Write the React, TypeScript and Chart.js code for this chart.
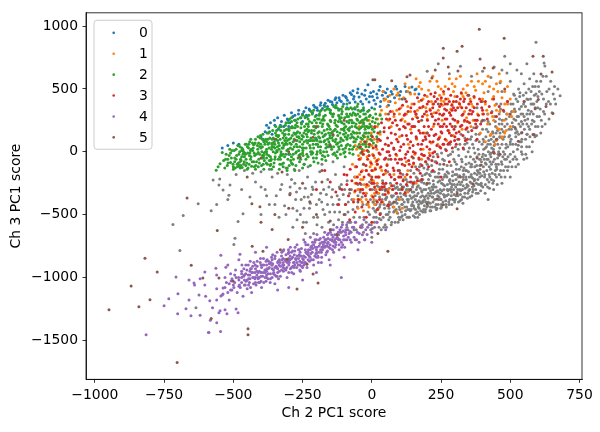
import { useEffect, useRef } from "react"
import { Chart, registerables } from "chart.js"

Chart.register(...registerables)

// axis ticks
const xTicks = [-1000, -750, -500, -250, 0, 250, 500, 750]
const yTicks = [-1500, -1000, -500, 0, 500, 1000]

const seriesLabels = ["0", "1", "2", "3", "4", "5"]
const seriesColors = ["#1f77b4", "#ff7f0e", "#2ca02c", "#d62728", "#9467bd", "#8c564b"]
const backgroundColor = "#7f7f7f"

// points as flat x,y lists (Ch 2 PC1 score, Ch 3 PC1 score)
const grayPoints = [
  -560,-420,-520,-380,-470,-300,-440,-360,-420,-240,-400,-500,-385,-300,-370,-420,-360,-200,-345,-350,-335,-520,-325,-260,-315,-430,-305,-180,-295,-330,-285,-600,-278,-250,-270,-470,-262,-150,-255,-380,-247,-560,-240,-290,-232,-200,-225,-450,-218,-340,-210,-650,-203,-240,-196,-520,-188,-160,-181,-400,-174,-300,-166,-700,-159,-220,-152,-480,-145,-360,-138,-580,-131,-180,-124,-420,-117,-280,-110,-640,-103,-340,-96,-500,-89,-230,
  -85,-400,-80,-560,-74,-300,-68,-460,-62,-200,-56,-620,-50,-350,-44,-520,-38,-260,-32,-420,-26,-700,-20,-330,-14,-480,-8,-240,-2,-580,4,-400,10,-300,16,-520,22,-200,28,-440,34,-620,40,-340,46,-260,52,-500,58,-160,64,-400,70,-580,76,-300,82,-220,88,-460,94,-360,100,-540,-60,-120,-20,-150,20,-100,60,-60,-100,-120,-140,-80,-180,-100,-230,-120,
  104,-260,108,-420,112,-180,116,-340,120,-500,124,-220,128,-380,132,-300,136,-460,140,-150,144,-240,148,-400,152,-320,156,-520,160,-200,164,-280,168,-440,172,-120,176,-360,180,-240,184,-480,188,-300,192,-180,196,-400,200,-100,204,-330,208,-250,212,-440,216,-160,220,-360,224,-280,228,-80,232,-420,236,-200,240,-320,244,-140,248,-380,252,-250,256,-60,260,-300,264,-180,268,-420,272,-110,276,-340,280,-230,284,-20,288,-280,292,-160,296,-380,300,-80,304,-220,308,-320,312,20,316,-140,320,-260,324,-60,328,-360,332,-180,336,60,340,-100,344,-280,348,0,352,-200,356,100,360,-120,364,-320,368,30,372,-220,376,140,380,-40,384,-160,388,80,392,-260,396,-80,400,180,404,20,408,-180,412,120,416,-60,420,240,424,-120,428,60,432,-220,436,160,440,0,444,280,448,-100,452,100,456,-20,460,220,
  465,340,470,60,475,160,480,-60,485,260,490,400,495,120,500,-20,505,320,510,200,515,450,520,60,525,280,530,140,535,469,540,360,545,220,550,540,555,100,560,300,564,415,570,180,575,480,580,250,585,620,590,350,595,130,600,440,605,280,610,560,615,200,622,706,625,682,630,380,640,500,651,311,660,420,680,445,593,871,524,651,488,627,442,674,463,548,529,51,463,115,427,-20,400,400,420,480,380,350,500,560,470,480,540,0,560,-50,520,-120,500,-200,470,-250,440,-300,420,-380,
  -573,-224,-549,-216,-537,-305,-512,-265,-476,-82,-490,-180,-460,-150,-430,-170,-400,-160,-370,-140,-340,-170,-310,-130,-280,-140,-552,-265,-516,-345,-627,-414,-681,-508,-718,-579,-580,-470,-693,-785,-465,-493,-483,-555,-494,-689,-498,-737,-635,-1241,
  5,-450,12,-350,18,-560,25,-280,31,-490,37,-380,43,-600,49,-310,55,-430,61,-540,67,-250,73,-360,79,-480,85,-290,91,-410,97,-520,3,-250,15,-420,27,-530,39,-230,51,-370,63,-480,75,-410,87,-330,99,-440,
  103,-330,107,-480,111,-380,115,-280,119,-440,123,-350,127,-520,131,-400,135,-310,139,-470,143,-370,147,-280,151,-430,155,-350,159,-490,163,-400,167,-330,171,-450,175,-290,179,-410,183,-350,187,-460,191,-380,195,-300,199,-440,110,-510,130,-460,150,-510,170,-390,190,-430,125,-300,145,-420,165,-480,185,-390,
  203,-370,207,-290,211,-410,215,-330,219,-440,223,-260,227,-380,231,-320,235,-450,239,-240,243,-360,247,-300,251,-420,255,-220,259,-340,263,-270,267,-390,271,-200,275,-310,279,-420,283,-250,287,-350,291,-190,295,-300,299,-400,210,-470,240,-420,270,-350,290,-260,220,-300,250,-380,280,-300,
  303,-280,307,-180,311,-350,315,-240,319,-390,323,-120,327,-300,331,-220,335,-360,339,-150,343,-260,347,-330,351,-90,355,-240,359,-180,363,-280,367,-60,371,-170,375,-300,379,-110,383,-220,387,-20,391,-140,395,-250,399,-40,320,-340,340,-200,360,-250,380,-180,310,-300,330,-270,350,-310,370,-230,390,-200,
  403,-120,407,-200,411,-30,415,-150,419,60,423,-240,427,-80,431,100,435,-170,439,20,443,-60,447,200,451,-140,455,60,459,-30,463,150,467,-200,471,250,475,0,479,120,483,-120,487,300,491,40,495,180,499,-80,410,-260,430,-40,450,-200,470,-100,490,-150,480,200,460,300,440,120,420,160,405,80,
  503,100,507,230,511,0,515,340,519,150,523,-60,527,400,531,220,535,80,539,300,543,-20,547,450,551,180,555,360,559,40,563,260,567,500,571,120,575,380,579,0,583,300,587,450,591,200,595,560,599,350,605,480,612,250,620,420,630,600,645,380,660,520,510,380,530,500,550,280,570,580,590,520,520,250,540,150,560,420,
  -290,-220,-275,-380,-260,-290,-245,-450,-230,-360,-215,-280,-200,-420,-185,-330,-170,-500,-155,-280,-140,-420,-125,-350,-110,-260,-95,-420,-80,-330,-65,-520,-50,-260,-35,-360,-20,-560,-5,-380,-270,-540,-240,-650,-210,-520,-180,-600,-150,-620,-120,-540,-90,-600,-60,-700,-30,-640,0,-680,-330,-300,-310,-500,-350,-420,-380,-350,-400,-280,
  2,-610,7,-520,11,-470,17,-390,21,-330,26,-600,30,-420,35,-280,41,-520,46,-450,50,-380,53,-600,57,-300,62,-450,66,-520,71,-350,77,-440,80,-270,84,-560,89,-380,93,-490,96,-300,
  101,-460,105,-360,109,-290,113,-540,117,-400,121,-320,126,-440,129,-240,133,-520,138,-350,142,-460,146,-320,149,-260,153,-450,157,-380,161,-300,166,-520,169,-420,173,-230,177,-470,181,-320,186,-400,189,-250,193,-480,197,-350,
  202,-430,205,-220,209,-350,213,-470,217,-280,221,-400,225,-330,229,-200,233,-460,237,-310,241,-380,245,-230,249,-450,253,-310,257,-400,261,-200,265,-350,269,-440,273,-260,277,-170,281,-380,285,-300,289,-420,293,-230,297,-340,
  301,-380,305,-140,309,-260,313,-400,317,-190,321,-310,325,-240,329,-410,333,-130,337,-290,341,-220,345,-370,349,-160,353,-300,357,-120,361,-350,365,-210,369,-270,373,-80,377,-330,381,-150,385,-260,389,-60,393,-310,397,-190,
  401,-280,406,-60,409,-330,413,-100,417,-220,421,0,425,-290,429,-140,433,30,437,-250,441,80,445,-180,449,150,453,-260,457,-100,461,260,465,-150,469,180,473,-40,477,320,481,-200,485,60,489,220,493,-120,497,280,402,-20,414,40,426,-200,438,-80,462,30,474,100,486,-60,498,130,
  502,380,506,-120,509,60,513,260,517,-40,521,420,525,160,529,-100,533,340,537,200,541,40,545,300,549,-60,504,180,512,460,518,320,526,20,534,440,542,100,548,380,
  553,250,557,470,561,140,565,330,569,40,573,420,577,220,581,520,585,380,589,120,593,460,597,280,556,-20,566,200,576,320,586,240,596,400,
  602,520,608,340,614,460,618,600,624,300,632,480,638,400,646,560,655,460,664,380,672,500,610,150,626,220,
  -295,-280,-285,-450,-272,-320,-258,-500,-244,-360,-236,-560,-222,-410,-212,-300,-198,-580,-190,-380,-176,-460,-164,-340,-156,-560,-142,-300,-134,-480,-118,-380,-106,-560,-98,-300,-86,-480,-72,-380,-64,-620,-52,-440,-42,-320,-28,-520,-18,-420,-8,-500,-4,-620,-34,-580,-76,-560,-116,-480,-160,-420,
  152,-170,158,-120,164,-210,170,-150,176,-100,182,-190,188,-130,194,-80,198,-170,
  202,-140,206,-60,211,-190,216,-110,222,-40,226,-160,232,-80,236,-20,242,-170,246,-100,
  252,-10,256,-140,262,-70,266,20,272,-160,276,-30,282,60,286,-110,292,0,296,-60,
  302,40,306,-100,310,100,314,-30,318,60,322,140,326,-80,332,20,336,110,340,-40,344,70,348,160,
  352,30,356,-40,360,120,364,60,368,190,372,-10,376,90,380,200,384,20,388,140,392,-60,396,240,398,60,
  402,100,406,250,410,30,414,180,418,300,422,90,426,220,430,-10,434,320,438,150,442,50,446,240,450,380,454,170,458,0,462,120,466,380,470,220,
  300,-180,330,-150,360,-100,390,-110,420,-60,450,-120,480,-20,500,60,520,120,540,240,560,140,580,80,600,200,620,320,640,260,
  200,640,240,700,280,620,320,680,360,600,400,640,430,590,470,650,500,700,540,620,560,700,480,760,
  1,-300,6,-400,9,-560,14,-480,19,-270,23,-450,28,-360,33,-540,38,-300,44,-420,48,-580,54,-360,58,-500,63,-290,68,-420,72,-560,78,-350,82,-470,86,-400,92,-280,95,-560,98,-380,
  102,-300,106,-520,110,-420,114,-220,118,-340,122,-470,128,-270,132,-380,136,-520,140,-300,144,-430,150,-360,154,-240,158,-460,162,-350,168,-270,172,-500,176,-400,180,-310,184,-220,190,-360,194,-460,198,-260,
  204,-400,208,-180,212,-310,218,-360,222,-230,228,-440,232,-280,238,-350,242,-200,248,-330,252,-440,258,-260,262,-360,268,-190,272,-300,278,-400,282,-220,288,-320,292,-380,298,-260,
  304,-350,312,-200,318,-300,324,-380,330,-200,336,-330,342,-150,348,-270,354,-360,360,-200,366,-300,372,-120,378,-250,384,-330,390,-170,396,-270,404,-160,410,-90,418,-280,424,-180,432,-100,440,-230,446,-150,454,-50,460,-180,468,-80,476,-150,484,30,492,-40,500,80,510,-60,520,180,530,280,540,80,550,400,560,220,570,300,580,380,
]

const points0 = [
  -400,120,-385,160,-372,190,-360,140,-350,210,-338,180,-326,240,-318,200,-305,260,-296,230,-285,280,-276,250,-265,300,-256,270,-245,320,-236,290,-226,340,-214,310,-205,355,-196,330,-186,370,-178,345,-168,385,-160,360,-150,400,-142,375,-133,415,-126,390,-118,430,-110,400,-102,380,-95,440,-88,410,-80,390,-73,455,-66,420,-60,395,-52,470,-46,435,-40,400,-33,380,-26,450,-20,420,-14,532,-10,395,-4,470,2,440,8,410,14,380,20,430,26,490,32,400,38,450,44,420,50,470,58,440,66,400,74,460,82,430,90,500,100,450,110,420,125,480,145,516,156,493,170,460,
  -90,350,-120,340,-150,330,-60,340,-30,330,0,350,30,360,60,370,-200,290,-250,240,-300,200,-393,99,-540,30,-520,50,-500,70,-480,60,-234,280,-68,485,-300,-20,-200,100,
  -380,210,-366,230,-352,250,-340,270,-330,210,-316,290,-302,250,-290,310,-278,290,-264,330,-250,300,-238,350,-224,330,-210,370,-198,350,-184,390,-172,370,-158,410,-144,395,-130,430,-116,410,-104,450,-92,430,-78,470,-64,440,-50,500,-36,460,-24,490,-8,440,6,480,18,460,30,520,42,480,56,500,70,480,86,520,104,480,120,520,138,470,160,500,
]

const points1 = [
  -65,-380,-60,-250,-58,-120,-55,20,-52,150,-50,-450,-47,-300,-44,-180,-42,-60,-40,80,-38,230,-35,-400,-32,-220,-30,-100,-27,10,-25,120,-22,-330,-20,-150,-17,-40,-15,200,-12,-270,-10,60,-7,-190,-5,-80,-2,150,0,-350,3,-20,6,-230,9,100,12,-130,15,-300,18,20,21,260,24,-60,27,-200,30,140,
  35,330,45,410,55,360,65,450,75,320,85,390,95,470,105,350,115,430,125,300,135,510,145,380,155,460,165,330,175,550,185,420,195,350,205,490,215,400,225,310,235,560,245,450,255,370,265,520,275,420,285,340,295,480,305,580,315,390,325,460,335,320,345,530,355,420,365,360,375,490,385,560,395,400,405,470,415,330,425,520,435,420,445,370,455,480,465,560,470,430,
  380,250,392,150,400,300,410,80,418,220,428,130,436,280,445,60,452,190,462,320,470,110,478,250,485,170,490,380,
  40,-250,55,-100,60,50,70,200,80,-180,90,-30,100,120,110,260,125,-80,132,60,140,180,155,-20,162,100,170,240,185,20,192,150,200,290,208,-10,215,70,222,200,238,60,246,120,254,250,270,90,278,170,294,130,302,200,310,230,326,180,334,240,342,270,358,200,366,250,382,300,100,-200,130,-150,150,-100,60,-300,20,-250,180,-60,
  40,-400,60,-330,80,-440,70,-270,100,-380,120,-200,50,-170,-30,-470,10,-420,90,-480,110,-450,130,-320,160,-250,
  40,480,60,400,80,500,100,420,120,540,140,460,160,580,180,500,200,440,220,600,240,520,260,460,280,580,300,520,320,600,340,470,360,560,380,620,400,540,420,600,440,500,460,620,480,480,500,420,50,300,90,330,130,360,170,400,210,340,250,410,290,380,330,440,370,430,410,380,450,330,490,300,
  -70,-100,-62,-320,-55,-200,-48,-30,-41,-380,-34,-150,-27,-260,-20,60,-13,-420,-6,-120,1,-240,8,-380,15,-80,22,-460,29,-300,36,-150,-45,200,-30,250,-15,100,0,200,
  420,300,440,250,460,180,480,150,500,200,505,280,510,320,470,120,450,90,430,140,
  60,250,100,300,140,320,180,350,220,380,260,400,300,440,20,200,30,300,80,280,120,240,160,280,200,260,240,330,280,310,320,360,360,380,400,420,440,440,480,380,-20,150,-10,250,0,50,10,-50,-40,-50,-50,-300,-60,-200,-20,-380,5,-150,25,-330,
  50,420,90,450,130,480,170,520,210,560,250,500,290,540,330,500,370,520,410,560,450,540,490,520,-60,50,-50,-380,-40,-220,-30,-20,-20,-280,-10,-440,0,-100,10,-330,20,80,30,-130,
]

const points2 = [
  -562,-148,-555,-120,-548,-95,-540,-5,-528,-60,-522,-110,-515,-30,-510,-85,-505,10,-500,-120,
  -495,-50,-490,20,-486,-100,-480,-20,-476,40,-472,-70,-468,-125,-464,5,-460,-40,-457,60,
  -452,-90,-448,-10,-445,30,-441,80,-438,-60,-434,-115,-430,10,-427,55,-423,-30,-420,100,
  -416,-80,-412,20,-409,70,-405,-20,-402,130,-398,-110,-395,40,-391,-50,-388,90,-384,0,-381,-90,-378,150,
  -375,60,-372,-30,-368,110,-365,-70,-362,20,-358,170,-355,-120,-352,80,-348,-10,-345,130,-341,40,-338,-60,-335,190,
  -331,100,-328,0,-325,-100,-322,150,-318,50,-315,-40,-312,210,-309,110,-305,-130,-302,20,-299,170,-296,70,-293,-70,-290,240,
  -287,130,-284,-20,-280,40,-277,190,-274,-110,-270,90,-267,260,-264,10,-260,150,-257,-60,-254,220,-250,60,
  -247,120,-244,-100,-240,280,-237,30,-234,180,-231,-40,-228,90,-225,240,-221,0,-218,150,-215,300,-212,60,-209,-80,
  -206,200,-203,110,-199,-20,-196,260,-193,40,-190,160,-187,320,-184,80,-180,-60,-177,220,-174,0,-171,130,
  -168,290,-165,60,-161,180,-158,-30,-155,340,-152,110,-148,240,-145,20,-142,160,-139,300,-135,-10,-132,80,-129,210,
  -126,350,-123,130,-120,40,-116,260,-113,-20,-110,180,-107,320,-103,90,-100,220,-97,0,-94,150,-90,280,
  -87,60,-84,340,-80,190,-77,110,-73,250,-70,20,-67,310,-63,150,-60,80,-57,220,-53,360,-50,40,
  -46,180,-43,280,-40,110,-36,330,-33,60,-30,220,-26,150,-23,300,-20,80,-16,250,-13,190,-10,40,
  -6,290,-2,130,2,240,6,70,10,190,14,300,18,120,24,220,30,160,36,260,
  -410,-5,-395,100,-380,20,-366,-40,-350,60,-336,130,-324,30,-310,-20,-298,100,-286,190,-272,0,-262,110,-248,-30,-236,140,-224,50,-210,200,-198,90,-186,10,-172,170,-160,100,-150,250,-138,40,-124,200,-112,110,-98,270,-86,130,-72,200,-58,290,-44,230,-28,120,-388,-70,-360,100,-342,0,-316,170,-294,30,-268,200,-252,130,-232,70,-216,230,-192,120,-176,260,-156,150,-134,230,-118,280,-92,50,-78,300,-64,110,-438,10,-426,-80,-444,60,-462,-10,-470,-40,-454,-60,
  -482,-90,-477,0,-473,-110,-466,20,-461,-80,-456,-20,-449,40,-443,-100,-436,-40,-431,70,-425,-10,-419,-110,-413,50,-408,-60,-403,110,-397,0,-392,-100,-386,60,-379,-20,-373,150,-367,-110,-361,40,-356,110,-349,-40,-344,170,-337,70,-332,-100,-327,200,-320,-20,-314,90,-308,180,-303,-60,-297,260,-291,60,-286,-100,-281,150,-275,210,-269,40,-263,-30,-258,270,-253,100,-249,10,-243,200,-238,-60,-233,120,-227,290,-222,30,-217,170,-211,-50,-207,250,-201,60,-195,150,-189,300,-185,-10,-179,200,-173,80,-169,330,-163,0,-157,210,-151,130,-147,40,-141,280,-136,170,-131,350,-127,60,-121,240,-115,150,-109,300,-104,20,-99,190,-93,340,-89,110,-83,230,-78,50,-72,290,-68,160,-62,350,-56,100,-51,250,-45,60,-41,320,-35,200,-31,130,-25,260,-21,40,-15,320,-11,150,-7,220,
  -400,30,-390,80,-380,-50,-370,70,-356,0,-346,100,-334,50,-326,-30,-316,130,-306,60,-296,-20,-284,80,-276,140,-266,-50,-256,190,-246,30,-236,90,-226,170,-218,-20,-208,140,-196,60,-186,230,-176,120,-166,30,-154,200,-144,110,-132,180,-122,70,-112,240,-102,140,-94,200,-84,280,-74,140,-66,230,-54,190,-44,150,-34,250,-24,180,
  -535,-70,-531,-130,-526,-20,-519,-90,-513,20,-507,-50,-501,-100,-497,10,-493,-130,-488,-30,-484,50,-479,-110,-474,-60,-469,30,-463,-100,-458,-10,-453,60,-447,-130,-442,-30,-437,100,-432,-80,-428,30,-424,-120,-421,70,-417,-20,-411,120,-406,-90,-401,60,-396,-50,-393,140,-389,-10,-383,100,-377,-100,-371,30,-369,160,-363,-60,-359,70,-353,-90,-347,200,-343,10,-339,120,-333,-40,-329,170,-323,70,-319,-90,-313,140,-307,10,-301,230,-298,-110,-292,110,-288,200,-283,-60,-279,250,-273,60,-268,160,-261,-80,-255,230,-251,30,-245,150,-241,270,-235,-20,-229,200,-223,90,-219,320,-213,-10,-208,170,-204,280,-197,0,-194,200,-188,110,-183,330,-178,-30,-172,250,-167,140,-162,340,-156,40,-150,180,-146,300,-140,90,-137,360,-130,-30,-125,160,-119,330,-114,80,-108,230,-105,360,-101,-10,-96,120,-91,300,-86,180,-81,20,-76,350,-71,230,-65,80,-61,300,-55,150,-49,330,-44,30,-39,240,-34,100,-29,300,-24,60,-19,200,-14,120,-9,280,-4,200,0,90,4,270,8,160,12,230,
  -380,0,-360,60,-340,90,-320,110,-300,140,-280,100,-260,40,-240,170,-220,110,-200,230,-180,150,-160,220,-140,130,-120,290,-100,170,-80,250,-60,200,-40,190,-20,270,-390,-30,-370,-70,-350,30,-330,-60,-310,70,-290,-40,-270,120,-250,-10,-230,220,-210,30,-190,260,-170,90,-150,310,-130,100,-110,50,-90,240,-70,120,-50,300,-30,230,-10,190,
  -520,-60,-510,-10,-495,-80,-485,-120,-470,10,-455,-110,-440,-10,-425,60,-410,-120,-395,-30,-380,80,-365,-100,-350,-60,-335,20,-320,-120,-305,90,-290,-90,-275,-10,-260,80,-245,-100,-230,-40,-215,90,-200,-50,-185,40,-170,-40,-155,80,-140,-20,-125,0,-110,100,-95,30,-80,-10,-65,40,-50,120,-35,20,-20,150,-5,100,15,50,
  -330,200,-310,230,-290,270,-270,230,-250,290,-230,260,-210,330,-190,290,-170,360,-150,330,-130,370,-110,340,-90,380,-70,340,-50,380,-30,350,-10,330,10,340,30,290,
  -500,-140,-490,-60,-475,-130,-465,-20,-450,-140,-435,20,-420,-140,-405,40,-390,-140,-375,100,-362,-140,-348,150,-334,-140,-320,30,-306,-150,-292,190,-278,-150,-264,120,-250,-130,-236,220,-222,-110,-208,90,-194,-90,-180,250,-166,-70,-152,60,-138,300,-124,-50,-110,270,-96,-40,-82,170,-68,-20,-54,260,-40,-10,-26,200,-12,0,2,180,16,260,
  -355,40,-342,130,-328,-20,-314,60,-300,180,-286,20,-272,150,-258,-20,-244,80,-230,160,-216,0,-202,190,-188,80,-174,280,-160,40,-146,150,-132,250,-118,20,-104,180,-90,100,
]

const points3 = [
  -108,-300,-100,-180,-95,-420,-90,-260,-84,-350,-78,-140,-72,-230,-66,-400,-60,-310,-55,-120,-52,-200,
  -48,-380,-46,-60,-43,-250,-41,40,-38,-160,-36,-440,-33,-300,-31,-20,-28,-200,-26,80,-23,-350,-21,-110,-18,-260,-16,10,-13,-400,-11,-180,-8,60,-6,-300,-3,-90,-1,-220,
  2,120,4,-360,6,-30,8,-250,11,200,13,-140,15,40,17,-320,19,-70,22,150,24,-200,26,-10,28,-380,31,90,33,-120,35,230,37,-280,39,20,42,-180,44,160,46,-60,48,-340,49,60,
  51,-250,53,260,55,-110,57,110,59,-320,61,0,63,190,65,-180,67,320,69,-60,71,70,73,-270,75,230,77,-130,79,30,81,300,83,-220,85,140,87,-20,89,-330,91,210,93,-90,95,80,97,-200,99,340,
  101,10,103,-170,105,250,107,-60,109,130,111,370,113,-230,115,60,117,290,119,-110,121,190,123,-20,125,400,127,-180,129,100,131,320,133,-70,135,220,137,30,139,-240,141,350,143,150,145,-120,147,260,149,50,
  151,-90,153,380,155,200,157,-10,159,300,161,110,163,-140,165,430,167,60,169,240,171,-60,173,350,175,150,177,20,179,410,181,-110,183,280,185,90,187,-30,189,200,191,450,193,120,195,-80,197,320,199,40,
  201,250,203,-50,205,400,207,130,209,20,211,330,213,460,215,180,217,-70,219,280,221,80,223,380,225,220,227,0,229,470,231,140,233,310,235,50,237,420,239,-40,241,260,243,110,245,360,247,200,249,30,
  251,430,253,150,255,290,257,60,259,480,261,220,263,340,265,100,267,420,269,10,271,260,273,380,275,170,277,500,279,70,281,310,283,220,285,450,287,130,289,370,291,30,293,260,295,400,297,180,299,90,
  302,330,305,150,308,440,311,240,314,100,317,380,320,200,323,470,326,290,329,130,332,400,335,250,338,90,341,350,344,190,347,450,350,300,
  353,230,357,400,361,170,365,320,369,440,373,250,377,190,381,380,385,290,389,420,393,220,397,350,
  403,300,410,400,417,260,424,360,432,310,440,420,450,280,460,360,475,330,490,400,
  20,-100,40,-250,60,50,80,-150,100,180,120,-50,140,80,160,300,180,-20,200,150,220,350,240,100,260,300,280,150,300,250,30,-20,50,-150,70,150,90,-250,110,-100,130,220,150,0,170,170,190,-30,210,80,230,250,250,380,270,200,290,330,10,-280,-10,-30,-30,-330,0,-150,25,100,45,-280,65,-30,85,250,105,-200,125,130,145,-40,165,270,185,360,205,200,225,130,245,300,265,260,285,80,305,400,325,350,345,240,
  -150,-240,-90,-185,-130,-320,-170,-150,-60,-480,-200,-300,-20,-520,30,-500,-40,-600,0,-560,-80,-540,-120,-420,60,-430,20,-460,
  220,-150,280,-80,330,30,380,100,250,-200,150,-250,120,-330,180,-220,
  30,-300,50,-50,70,-200,90,100,110,-300,130,0,150,200,170,-50,190,300,210,-30,230,400,250,160,270,330,290,200,310,350,330,300,350,380,370,350,20,-400,0,-250,-20,-150,-40,-300,60,-420,80,20,100,-60,120,300,140,-200,160,120,180,60,200,380,220,-10,240,220,260,60,280,400,300,120,320,420,340,180,360,300,380,250,400,330,
  15,-200,35,-400,55,0,75,-300,95,-150,115,200,135,-100,155,320,175,-170,195,100,215,300,235,-90,255,200,275,60,295,350,315,160,335,420,355,330,375,220,395,400,-15,-60,-35,0,-55,-250,5,30,45,190,65,260,85,-60,105,40,125,-260,145,200,165,-230,185,150,205,-120,225,440,245,40,265,380,285,290,305,60,325,210,345,100,
]

const points4 = [
  -600,-1150,-585,-1186,-560,-1090,-548,-1264,-537,-1132,-525,-1040,-515,-1180,-505,-1100,-495,-980,-490,-1250,-483,-1280,-478,-1060,-470,-950,-465,-1150,-460,-1020,-455,-900,-450,-1090,-446,-980,-442,-1040,-438,-930,-434,-1120,-430,-1000,-426,-880,-422,-960,-418,-1060,-414,-910,-410,-1010,-406,-950,-402,-850,-398,-1080,-394,-990,-390,-900,-386,-940,-382,-1030,-378,-860,-374,-970,-370,-920,-366,-1010,-362,-840,-358,-890,-354,-960,-350,-1050,-346,-910,-342,-800,-338,-870,-334,-950,-330,-990,-326,-830,-322,-900,-318,-780,-314,-860,-310,-940,-306,-1000,-302,-810,-298,-880,-294,-760,-290,-920,-286,-840,-282,-970,-278,-790,-274,-860,-270,-740,-266,-900,-262,-820,-258,-950,-254,-770,-250,-850,-246,-700,-242,-880,-238,-800,-234,-920,-230,-740,-226,-830,-222,-680,-218,-860,-214,-770,-210,-900,-206,-720,-202,-810,-198,-658,-194,-840,-190,-750,-186,-690,-182,-880,-178,-780,-174,-720,-170,-640,-166,-820,-162,-750,-158,-690,-154,-860,-150,-770,-146,-620,-142,-710,-138,-800,-134,-660,-130,-740,-126,-600,-122,-690,-118,-780,-114,-640,-110,-720,-106,-580,-102,-670,-98,-760,-94,-620,-90,-700,-86,-560,-82,-650,-79,-634,-74,-720,-70,-600,-64,-680,-58,-560,-52,-640,-46,-720,-40,-590,-34,-660,-28,-540,-22,-620,-17,-658,-10,-580,0,-640,10,-600,19,-560,
  -440,-980,-420,-1000,-400,-960,-380,-900,-360,-930,-340,-880,-320,-850,-300,-900,-280,-820,-260,-870,-240,-780,-220,-810,-200,-780,-180,-720,-160,-790,-340,-960,-300,-960,-260,-900,-380,-980,-420,-930,-240,-840,-200,-700,-160,-660,-120,-700,-320,-920,-280,-880,-360,-860,-400,-1030,-460,-1060,-470,-1000,
  -750,-1225,-815,-1455,-707,-997,-640,-1060,-620,-1300,-590,-1438,-560,-1360,-660,-1180,-700,-1130,-560,-980,-520,-900,-480,-860,-420,-800,-380,-760,-340,-1100,-300,-1080,-250,-1020,-200,-960,-150,-900,-100,-840,-50,-780,0,-720,-110,-1000,-60,-560,50,-620,-620,-1010,-546,-1430,-583,-1340,
  -545,-823,-603,-957,-660,-1021,-642,-1044,-603,-1060,-624,-1139,-733,-1170,-671,-1249,-653,-1304,-701,-1288,-552,-1280,-523,-1288,-530,-1257,-588,-1438,-563,-926,-527,-918,-476,-816,-508,-1029,-537,-1084,-545,-1147,
  -470,-970,-462,-930,-454,-1030,-446,-900,-438,-1080,-430,-960,-422,-1010,-414,-870,-406,-1000,-398,-920,-390,-1040,-382,-870,-374,-930,-366,-970,-358,-820,-350,-920,-342,-990,-334,-860,-326,-940,-318,-900,-310,-820,-302,-870,-294,-930,-286,-790,-278,-900,-270,-830,-262,-780,-254,-880,-246,-830,-238,-740,-230,-860,-222,-780,-214,-720,-206,-830,-198,-760,-190,-700,-182,-800,-174,-680,-166,-750,-158,-720,-150,-640,-142,-780,-134,-700,-126,-660,-118,-740,-110,-600,-102,-700,-94,-660,-86,-620,-78,-700,-440,-1010,-410,-960,-380,-1000,-350,-850,-320,-790,-290,-850,-260,-940,-230,-800,-200,-840,-170,-760,-140,-680,-400,-900,-360,-1000,-300,-800,-250,-920,-480,-1020,-500,-1060,-520,-1120,-530,-1000,-510,-970,
  -505,-1010,-498,-1080,-492,-940,-486,-1120,-481,-1000,-475,-1080,-469,-900,-463,-990,-457,-1060,-451,-940,-445,-1010,-439,-870,-433,-960,-427,-1050,-421,-900,-415,-980,-409,-1040,-403,-880,-397,-960,-391,-850,-385,-1000,-379,-930,-373,-870,-367,-1040,-361,-900,-355,-970,-349,-830,-343,-920,-337,-1010,-331,-880,-325,-800,-319,-950,-313,-860,-307,-920,-301,-780,-295,-860,-289,-960,-283,-880,-277,-760,-271,-920,-265,-850,-259,-800,-253,-910,-247,-860,-241,-720,-235,-890,-229,-780,-223,-840,-217,-750,-211,-860,-205,-700,-199,-800,-193,-880,-187,-730,-181,-840,-175,-760,-169,-700,-163,-800,-157,-650,-151,-740,-145,-700,-139,-620,-133,-760,-127,-690,-121,-640,-115,-700,-109,-760,-103,-630,-97,-700,-91,-580,-85,-680,-75,-640,-65,-600,-55,-700,-45,-650,-35,-600,-25,-700,-15,-600,
  -460,-980,-440,-950,-420,-1040,-400,-990,-380,-950,-360,-900,-340,-930,-320,-880,-300,-850,-280,-920,-260,-830,-240,-880,-220,-760,-200,-810,-180,-760,-160,-730,-140,-750,-120,-660,-450,-1020,-430,-910,-410,-1000,-390,-960,-370,-890,-350,-980,-330,-910,-310,-870,-290,-800,-270,-880,-250,-880,-230,-820,-210,-740,-190,-800,-170,-720,-150,-700,-130,-720,-470,-1040,-490,-1000,-515,-1050,-530,-1080,-540,-1140,-560,-1180,-575,-1240,
  -455,-970,-445,-1060,-435,-930,-425,-1000,-415,-950,-405,-1040,-395,-900,-385,-960,-375,-1010,-365,-880,-355,-940,-345,-990,-335,-900,-325,-860,-315,-930,-305,-880,-295,-830,-285,-910,-275,-850,-265,-780,-255,-830,-245,-900,-235,-810,-225,-870,-215,-800,-205,-760,-195,-830,-185,-780,-175,-740,-165,-700,-155,-760,-145,-660,-135,-720,-125,-680,-115,-620,-105,-740,-95,-640,-480,-1070,-495,-1040,-510,-1100,
]

const points5 = [
  388,974,478,903,619,760,258,824,326,840,308,800,258,745,391,737,651,634,582,760,611,619,590,343,601,415,629,359,654,304,582,138,529,83,517,193,442,-12,395,-106,308,-335,276,674,217,587,138,611,
  -667,-367,-558,-627,-819,-847,-775,-957,-869,-1068,-801,-1178,-841,-1233,-949,-1257,-580,-1327,-703,-1676,-610,-1005,-552,-1005,-652,-903,-447,-1455,
  -277,91,-212,115,-259,-43,-140,138,-324,-161,-433,-414,-404,-437,-296,-342,-224,-397,-180,-240,-115,-295,4,572,
  -432,-752,-393,-791,-306,-855,-270,-1092,-212,-973,-194,-1044,-126,-658,22,-650,58,-792,-447,-1408,-302,-698,-360,-619,-234,-895,-501,-1029,
  229,651,311,643,406,666,438,666,11,572,72,564,127,596,542,154,586,138,439,-3,463,-19,366,-256,258,-422,200,-414,235,-375,110,-280,308,-453,
  60,300,120,420,180,250,240,380,300,200,350,450,400,250,150,-50,200,150,260,-100,100,-150,50,-300,0,-200,-50,-400,-100,-500,-150,-550,-200,-500,-250,-600,-300,-450,-350,-500,-400,-560,-200,200,-150,50,-100,250,-300,0,-350,100,-400,-50,-450,-200,-250,-250,-180,-150,-80,-300,-30,-100,20,100,80,-400,140,-300,200,-250,320,-200,380,-50,450,100,500,300,550,400,480,500,-330,-780,-150,-620,
]

const seriesPoints = [points0, points1, points2, points3, points4, points5]

const fontFamily = '"DejaVu Sans", sans-serif'
const fontSize = 13.9
const dotRadius = 1.5

function toXY(flat: number[]) {
  const out: { x: number; y: number }[] = []
  for (let i = 0; i + 1 < flat.length; i += 2) out.push({ x: flat[i], y: flat[i + 1] })
  return out
}

const minus = (v: number) => String(v).replace("-", "\u2212")

// top/right spines plus a matplotlib style legend in the upper left
const framePlugin = {
  id: "frame",
  afterDatasetsDraw(chart: any) {
    const { ctx, chartArea: a } = chart
    ctx.save()
    ctx.strokeStyle = "#000"
    ctx.lineWidth = 0.8
    ctx.strokeRect(a.left, a.top, a.right - a.left, a.bottom - a.top)

    const bx = a.left + 8
    const by = a.top + 7.4
    ctx.beginPath()
    ctx.roundRect(bx, by, 58, 129, 3)
    ctx.fillStyle = "rgba(255,255,255,0.8)"
    ctx.fill()
    ctx.strokeStyle = "#cccccc"
    ctx.lineWidth = 1
    ctx.stroke()

    ctx.font = `${fontSize}px ${fontFamily}`
    ctx.textBaseline = "middle"
    ctx.textAlign = "left"
    seriesLabels.forEach((label, i) => {
      const cy = by + 12.6 + i * 20.9
      ctx.beginPath()
      ctx.arc(bx + 19.7, cy, 1.3, 0, Math.PI * 2)
      ctx.fillStyle = seriesColors[i]
      ctx.fill()
      ctx.fillStyle = "#000"
      ctx.fillText(label, bx + 45, cy + 1)
    })
    ctx.restore()
  },
}

export default function App() {
  const chartRef = useRef<HTMLCanvasElement>(null)
  const chartInstance = useRef<Chart | null>(null)

  useEffect(() => {
    document.body.style.margin = "0"
    if (!chartRef.current) return
    if (chartInstance.current) chartInstance.current.destroy()
    const ctx = chartRef.current.getContext("2d")
    if (!ctx) return

    // gray goes first so the numbered clusters sit on top of it
    const datasets: any[] = [
      {
        label: "",
        data: toXY(grayPoints),
        backgroundColor: backgroundColor,
        borderColor: backgroundColor,
        order: 0,
      },
      ...seriesPoints.map((pts, i) => ({
        label: seriesLabels[i],
        data: toXY(pts),
        backgroundColor: seriesColors[i],
        borderColor: seriesColors[i],
        order: -(i + 1),
      })),
    ]
    datasets.forEach((d) => {
      d.pointRadius = dotRadius
      d.pointBorderWidth = 0
      d.pointHoverRadius = dotRadius
    })

    const tickFont = { family: fontFamily, size: fontSize }
    const axisCommon = {
      type: "linear" as const,
      grid: { drawOnChartArea: false, drawTicks: true, tickLength: 3.5, color: "#000", lineWidth: 0.8 },
      border: { display: true, color: "#000", width: 0.8 },
    }

    chartInstance.current = new Chart(ctx, {
      type: "scatter",
      data: { datasets },
      options: {
        animation: false,
        responsive: false,
        events: [],
        layout: { padding: { top: 9.3, right: 18, left: 0, bottom: 0 } },
        plugins: { legend: { display: false }, tooltip: { enabled: false } },
        scales: {
          x: {
            ...axisCommon,
            position: "bottom",
            min: -1032,
            max: 759,
            afterBuildTicks: (s: any) => {
              s.ticks = xTicks.map((v) => ({ value: v }))
            },
            afterFit: (s: any) => {
              s.height = 52.7
            },
            ticks: { color: "#000", font: tickFont, padding: 4, maxRotation: 0, autoSkip: false, callback: (v: any) => minus(v) },
            title: { display: true, text: "Ch 2 PC1 score", color: "#000", font: tickFont, padding: { top: 0, bottom: 10.7 } },
          },
          y: {
            ...axisCommon,
            position: "left",
            min: -1810,
            max: 1105,
            afterBuildTicks: (s: any) => {
              s.ticks = yTicks.map((v) => ({ value: v }))
            },
            afterFit: (s: any) => {
              s.width = 86
            },
            ticks: { color: "#000", font: tickFont, padding: 4.5, autoSkip: false, callback: (v: any) => minus(v) },
            title: { display: true, text: "Ch 3 PC1 score", color: "#000", font: tickFont, padding: { top: 7.7, bottom: 0 } },
          },
        },
      },
      plugins: [framePlugin],
    })

    return () => {
      if (chartInstance.current) {
        chartInstance.current.destroy()
        chartInstance.current = null
      }
    }
  }, [])

  return (
    <div style={{ width: 600, height: 432 }}>
      <canvas ref={chartRef} width={600} height={432} />
    </div>
  )
}
